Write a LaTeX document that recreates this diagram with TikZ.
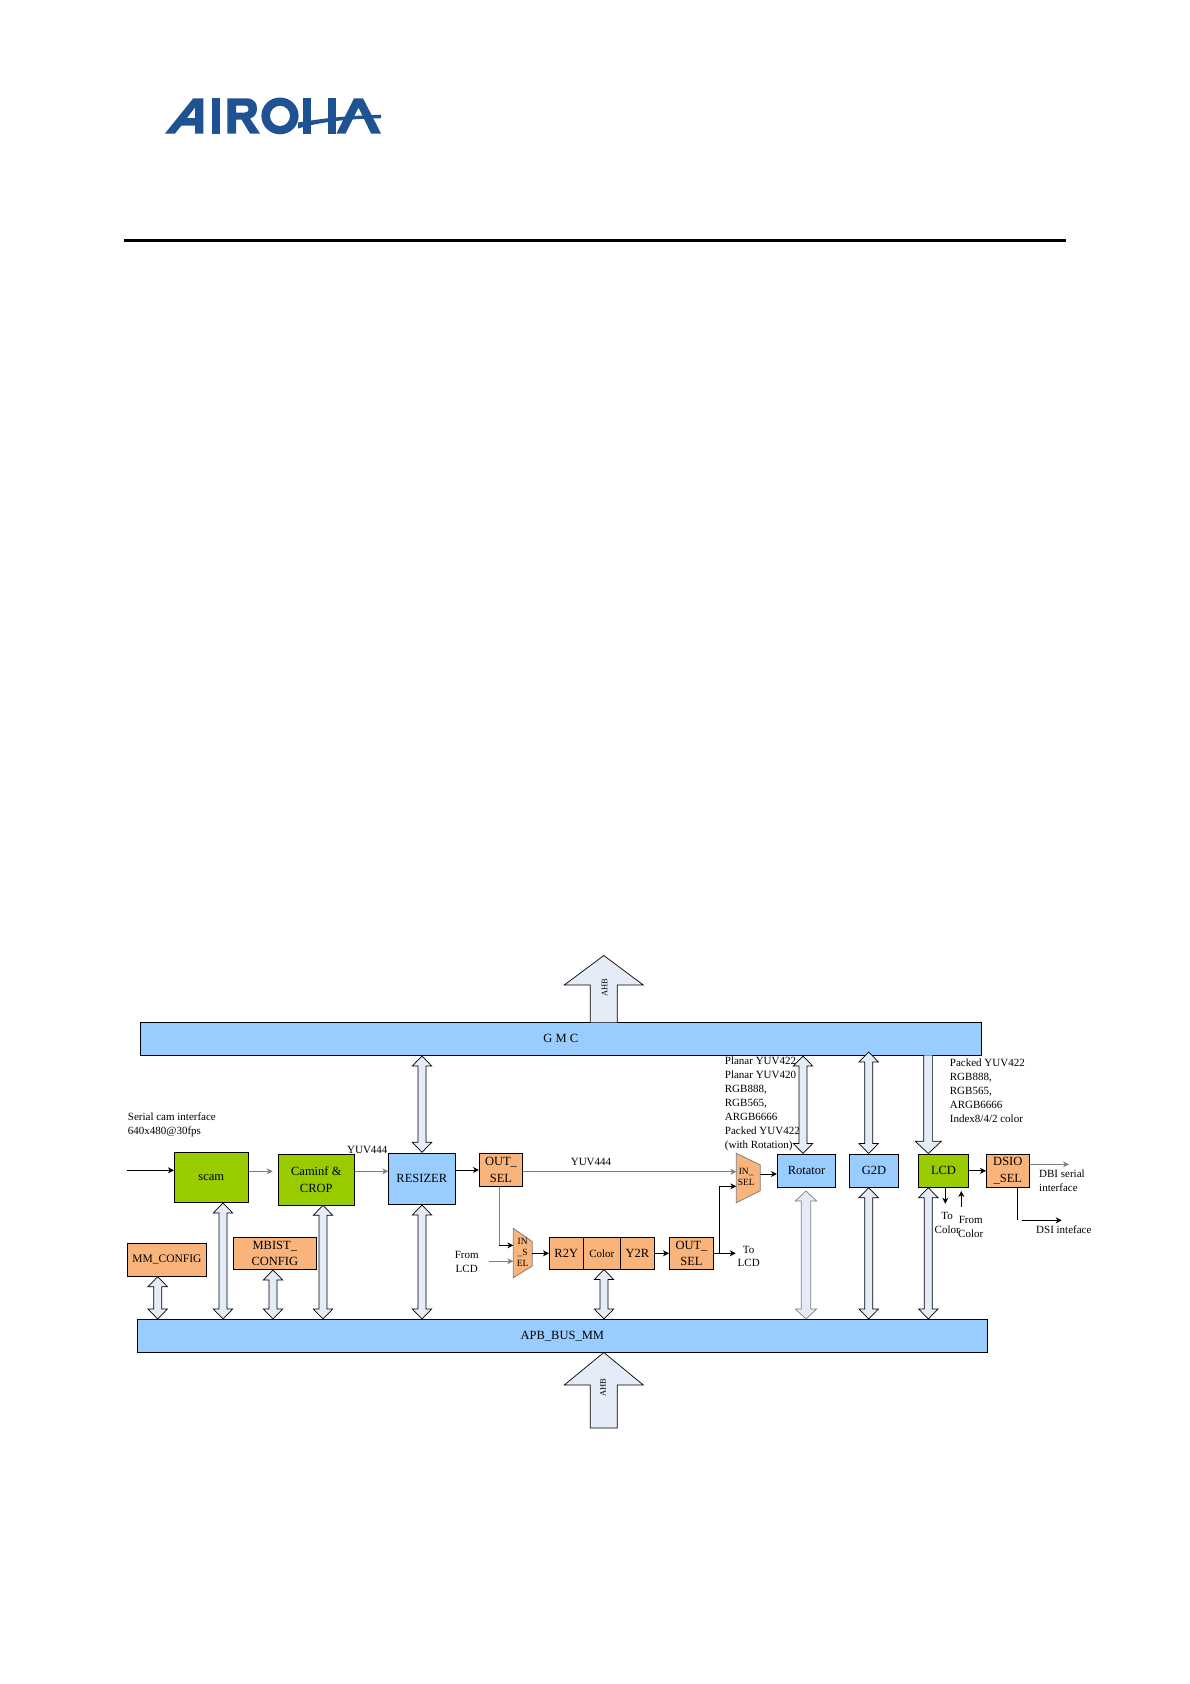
\documentclass[tikz,border=0pt]{standalone}
\usepackage{fontspec}
\setmainfont{Liberation Serif}
\usetikzlibrary{calc,arrows.meta}
\definecolor{busfill}{HTML}{E6ECF7}
\definecolor{bluebox}{HTML}{99CCFF}
\definecolor{greenbox}{HTML}{99CC00}
\definecolor{orangebox}{HTML}{F9B47C}
\definecolor{logoblue}{HTML}{1F5292}
\definecolor{wiregray}{HTML}{7F7F7F}
\tikzset{
  block/.style 2 args={draw=black,line width=.8pt,inner sep=0pt,minimum width=#1pt,minimum height=#2pt,align=center,font={\fontsize{12.5}{16.6}\selectfont}},
  blue/.style 2 args={block={#1}{#2},fill=bluebox},
  green/.style 2 args={block={#1}{#2},fill=greenbox},
  orange/.style 2 args={block={#1}{#2},fill=orangebox},
  lab/.style={inner sep=0pt,align=left,font={\fontsize{11}{14}\selectfont}},
  clab/.style={inner sep=0pt,align=center,font={\fontsize{11}{13.6}\selectfont}},
  muxlab/.style={inner sep=0pt,align=center,font={\fontsize{9.5}{11}\selectfont}},
  muxshape/.style={draw=wiregray,line width=.8pt,fill=orangebox},
  wire/.style={line width=.7pt,-{Stealth[length=6pt,width=6pt]}},
  plainwire/.style={line width=.7pt},
  graywire/.style={wire,draw=wiregray},
  graystart/.style={plainwire,draw=wiregray},
  busarrow/.style 2 args={draw=black,fill=busfill,line width=.7pt,line join=miter,
    to path={let \p1=(\tikztostart),\p2=(\tikztotarget) in
      (\x1,\y1)--(\x1+#1,\y1-10pt)--(\x1+#2,\y1-10pt)--(\x1+#2,\y2+10pt)--(\x1+#1,\y2+10pt)--(\x1,\y2)
      --(\x1-#1,\y2+10pt)--(\x1-#2,\y2+10pt)--(\x1-#2,\y1-10pt)--(\x1-#1,\y1-10pt)--cycle}},
  bus/.style={busarrow={9.7pt}{4pt}},
  bigarrow/.style={draw=black,fill=busfill,line width=.7pt},
}
\begin{document}
\begin{tikzpicture}[x=1pt,y=-1pt]
\fill[white] (0,0) rectangle (1190,1684);
\useasboundingbox (0,0) rectangle (1190,1684);
% logo
\fill[logoblue,even odd rule]
  (165,133.5)--(193.3,98.3)--(203.3,98.3)--(203.3,133.5)--(195,133.5)--(195,125.5)--(181.5,125.5)--(175,133.5)--cycle
  (187,118)--(195,118)--(195,107.5)--cycle;
\fill[logoblue] (211.7,98.3) rectangle (220,133.5);
\fill[logoblue,even odd rule]
  (227.3,98.3)--(246,98.3).. controls (254,98.3) and (257,103) .. (257,108.5).. controls (257,113.5) and (254.5,117) .. (250,118.5)--(260,133.5)--(250,133.5)--(241.5,119.5)--(236,119.5)--(236,133.5)--(227.3,133.5)--cycle
  (236,105.5)--(245,105.5).. controls (247.5,105.5) and (248.5,107) .. (248.5,109).. controls (248.5,111) and (247.5,112.5) .. (245,112.5)--(236,112.5)--cycle;
\fill[logoblue,even odd rule] (280,115.9) ellipse [x radius=18.6,y radius=18.4] (280,115.9) ellipse [x radius=10,y radius=10.2];
\fill[logoblue] (302.5,98.3) rectangle (311,133.5);
\fill[logoblue] (327.5,98.3) rectangle (336,133.5);
\fill[logoblue] (298,122.5).. controls (315,120) and (335,116) .. (381,114.8)--(381,118.2).. controls (345,119) and (320,122) .. (298,128.5)--cycle;
\fill[logoblue] (336.5,133.5)--(354,98.3)--(363,98.3)--(381,133.5)--(371,133.5)--(358.5,107.5)--(345.5,133.5)--cycle;
% rule
\fill[black] (124,239) rectangle (1066,242);

% bars
\node[blue={840.5}{33}] (gmc) at (560.75,1038.8) {G M C};
\node[blue={850}{33}] (apb) at (562.3,1335.8) {APB\_BUS\_MM};

% AHB arrows
\coordinate (ahbTopL) at (590.3,1022.3);
\coordinate (ahbTopR) at (617.3,1022.3);
\draw[bigarrow] (ahbTopL)--(590.3,985)--(564.3,985)--(603.8,955.5)--(643.3,985)--(617.3,985)--(ahbTopR);
\draw[bigarrow] (603.8,1352.5)--(643.3,1385)--(617.3,1385)--(617.3,1428)--(590.3,1428)--(590.3,1385)--(564.3,1385)--cycle;
\node[inner sep=0pt,rotate=90,font={\fontsize{8.5}{10}\selectfont}] (ahbT) at (604.5,988) {AHB};
\node[inner sep=0pt,rotate=90,font={\fontsize{8.5}{10}\selectfont}] (ahbB) at (603,1388) {AHB};

% blocks
\node[green={74}{50}] (scam) at (211.3,1177.3) {scam};
\node[green={76}{51}] (caminf) at (316.3,1179.8) {Caminf \&\\CROP};
\node[blue={67}{51}] (resizer) at (421.8,1178.8) {RESIZER};
\node[orange={43.4}{33}] (out1) at (501,1169.8) {OUT\_\\SEL};
\node[orange={79.4}{33},font={\fontsize{11.5}{14}\selectfont}] (mm) at (167,1259.8) {MM\_CONFIG};
\node[orange={83}{32.4}] (mbist) at (274.8,1253.5) {MBIST\_\\CONFIG};
\node[orange={34}{32}] (r2y) at (566.3,1253.3) {R2Y};
\node[orange={37}{32},font={\fontsize{11}{13}\selectfont}] (color) at (601.8,1253.3) {Color};
\node[orange={34}{32}] (y2r) at (637.3,1253.3) {Y2R};
\node[orange={44.4}{32}] (out2) at (691.5,1253.3) {OUT\_\\SEL};
\node[blue={58.4}{33}] (rotator) at (806.5,1170.8) {Rotator};
\node[blue={49.4}{33}] (g2d) at (874,1170.8) {G2D};
\node[green={50.4}{33}] (lcd) at (943.5,1170.8) {LCD};
\node[orange={43}{33}] (dsio) at (1007.8,1170.8) {DSIO\\\_SEL};

% muxes
\coordinate (m1a) at (513.3,1228.3);
\coordinate (m1b) at (532.3,1241.7);
\coordinate (m1c) at (532.3,1266);
\coordinate (m1d) at (513.3,1277.7);
\draw[muxshape] (m1a)--(m1b)--(m1c)--(m1d)--cycle;
\node[muxlab] (mux1) at (522.6,1252.5) {IN\\\_S\\EL};
\coordinate (m2a) at (736.3,1153.3);
\coordinate (m2b) at (760.3,1165);
\coordinate (m2c) at (760.3,1190.7);
\coordinate (m2d) at (736.3,1202.7);
\draw[muxshape] (m2a)--(m2b)--(m2c)--(m2d)--cycle;
\node[muxlab] (mux2) at (746.2,1177.2) {IN\_\\SEL};

% bus arrows
\coordinate (a1) at (422,1056);  \coordinate (a1r) at (422,1152.3);
\draw[bus] (a1) to (a1r);
\coordinate (a2) at (223,1203);  \coordinate (a2b) at (223,1319);
\draw[bus] (a2) to (a2b);
\coordinate (a3) at (157.7,1276.7); \coordinate (a3b) at (157.7,1319);
\draw[bus] (a3) to (a3b);
\coordinate (a4) at (273,1270);  \coordinate (a4b) at (273,1319);
\draw[bus] (a4) to (a4b);
\coordinate (a5) at (323,1205.3); \coordinate (a5b) at (323,1319);
\draw[bus] (a5) to (a5b);
\coordinate (a6) at (422,1205);  \coordinate (a6b) at (422,1319);
\draw[bus] (a6) to (a6b);
\coordinate (a7) at (604,1269.5); \coordinate (a7b) at (604,1319);
\draw[bus] (a7) to (a7b);
\coordinate (a8) at (803,1056);  \coordinate (a8b) at (803,1153.5);
\draw[bus] (a8) to (a8b);
\coordinate (a9) at (806,1191);  \coordinate (a9b) at (806,1319);
\draw[busarrow={10.7pt}{4.7pt},draw=wiregray] (a9) to (a9b);
\coordinate (a10) at (868.7,1052); \coordinate (a10b) at (868.7,1153.5);
\draw[bus] (a10) to (a10b);
\coordinate (a11) at (868.7,1187.7); \coordinate (a11b) at (868.7,1319);
\draw[bus] (a11) to (a11b);
\coordinate (a12) at (928.3,1187.7); \coordinate (a12b) at (928.3,1319);
\draw[bus] (a12) to (a12b);
\coordinate (lcdTopL) at (923.8,1055.3);
\coordinate (lcdTopR) at (932.6,1055.3);
\draw[bigarrow] (lcdTopL)--(923.8,1141.3)--(915.3,1141.3)--(928.3,1153.5)--(941.3,1141.3)--(932.6,1141.3)--(lcdTopR);

% wires
\coordinate (camIn) at (127,1170.3);
\draw[wire] (camIn) -- (camIn -| scam.west);
\coordinate (s2c) at (272.7,1171.3);
\draw[graywire] (scam.east |- s2c) -- (s2c);
\draw[graywire] (caminf.east |- 388.3,1171.3) -- (388.3,1171.3);
\draw[wire] (resizer.east |- 0,1170) -- (out1.west |- 0,1170);
\coordinate (sel1Out) at (522.7,1171.7);
\draw[graywire] (sel1Out) -- (736.3,1171.7);
\coordinate (d1) at (499.3,1245.3);
\draw[graystart] (d1 |- out1.south) -- (d1);
\draw[wire] (d1) -- (513.3,1245.3);
\coordinate (fromLcd) at (489.3,1261.3);
\draw[graywire] (fromLcd) -- (513.3,1261.3);
\draw[wire] (532.3,1253.3) -- (r2y.west);
\draw[wire] (y2r.east) -- (out2.west);
\coordinate (toLcd) at (735.7,1253.3);
\draw[wire] (out2.east) -- (toLcd);
\coordinate (j) at (719,1253.3);
\draw[wire] (j) |- (736.3,1186.3);
\draw[wire] (760.3,1174) -- (rotator.west |- 0,1174);
\draw[wire] (lcd.east) -- (dsio.west);
\coordinate (toCol) at (945.3,1203.7);
\draw[wire] (toCol |- lcd.south) -- (toCol);
\coordinate (fromColS) at (961.3,1206.7);
\coordinate (fromColE) at (961.3,1191);
\draw[wire] (fromColS) -- (fromColE);
\coordinate (dbi) at (1069,1164.3);
\draw[graywire] (dsio.east |- dbi) -- (dbi);
\coordinate (dsiD) at (1017.3,1220);
\draw[plainwire] (dsiD |- dsio.south) -- (dsiD);
\coordinate (dsiS) at (1021.7,1220.3);
\coordinate (dsiE) at (1061.7,1220.3);
\draw[wire] (dsiS) -- (dsiE);

% labels
\node[lab,anchor=west] (tSerial) at (127.7,1124.7) {Serial cam interface\\640x480@30fps};
\node[clab] (tY1) at (367.3,1150.3) {YUV444};
\node[clab] (tY2) at (591,1161.7) {YUV444};
\node[clab] (tFrom) at (466.7,1261.7) {From\\LCD};
\node[clab] (tTo) at (748.7,1256.5) {To\\LCD};
\node[lab,anchor=west] (tPlanar) at (724.7,1103.7) {Planar YUV422\\Planar YUV420\\RGB888,\\RGB565,\\ARGB6666\\Packed YUV422\\(with Rotation)};
\node[lab,anchor=west] (tPacked) at (949.7,1090.3) {Packed YUV422\\RGB888,\\RGB565,\\ARGB6666\\Index8/4/2 color};
\node[lab,anchor=west] (tDbi) at (1039,1180.7) {DBI serial\\interface};
\node[lab,anchor=west] (tDsi) at (1036,1230) {DSI inteface};
\node[clab] (tToC) at (947.2,1223.2) {To\\Color};
\node[clab] (tFromC) at (970.7,1227) {From\\Color};
\end{tikzpicture}
\end{document}
